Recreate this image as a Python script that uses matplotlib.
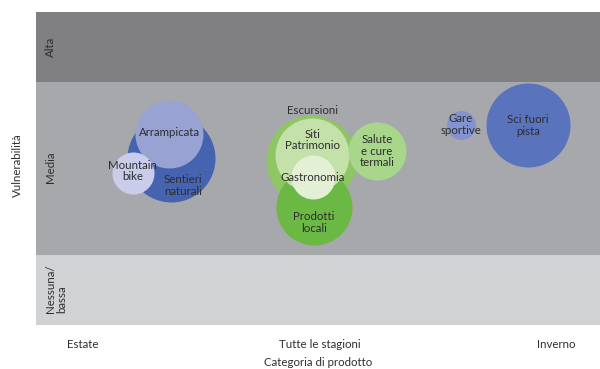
import matplotlib
matplotlib.use("Agg")
import matplotlib.pyplot as plt

plt.rcParams['font.family'] = ['Lato', 'DejaVu Sans']

# x: 0 = Estate, 1 = Tutte le stagioni, 2 = Inverno
# y: 0-1 Nessuna/bassa, 1-3.5 Media, 3.5-4.5 Alta
products = ['Sentieri\nnaturali', 'Arrampicata', 'Mountain\nbike',
            'Escursioni', 'Prodotti\nlocali', 'Siti\nPatrimonio', 'Gastronomia',
            'Salute\ne cure\ntermali', 'Gare\nsportive', 'Sci fuori\npista']
season = [0.372, 0.364, 0.211, 0.964, 0.977, 0.968, 0.973, 1.243, 1.598, 1.882]
vulnerability = [2.40, 2.746, 2.185, 2.372, 1.696, 2.444, 2.128, 2.501, 2.875, 2.875]
radius = [44, 34, 21, 45, 38, 37, 22, 29, 14.5, 42]   # bubble radius, px
colors = ['#4663b0', '#98a2d3', '#c9cde9', '#8dc663', '#6bb844', '#c5e1aa',
          '#e3f0d6', '#a8d68a', '#8393d0', '#5a73bd']
label_shift = [(12, -27), (0, 2), (0, 2), (2, 50), (0, -15), (1, 15),
               (0, 0), (0, 0), (0, 1), (0, 0)]

season_labels = ['Estate', 'Tutte le stagioni', 'Inverno']
band_lo = [0, 1, 3.5]
band_hi = [1, 3.5, 4.5]
band_colors = ['#d1d2d4', '#a7a8ab', '#808083']
band_names = ['Nessuna/\nbassa', 'Media', 'Alta']

txt = '#2e2e2e'
fs = 8.3

fig = plt.figure(figsize=(6, 3.69), dpi=100)
ax = fig.add_axes([0.06, 0.1192, 0.94, 0.8482])
ax.set_xlim(-0.1987, 2.186)
ax.set_ylim(0, 4.5)

for lo, hi, c in zip(band_lo, band_hi, band_colors):
    ax.axhspan(lo, hi, color=c, lw=0, zorder=0)
ax.text(-0.138, 4.0, band_names[2], rotation=90, ha='center', va='center',
        fontsize=fs, color=txt)
ax.text(-0.138, 2.27, band_names[1], rotation=90, ha='center', va='center',
        fontsize=fs, color=txt)
ax.text(-0.115, 0.17, band_names[0], rotation=90, ha='center', va='bottom',
        multialignment='left', fontsize=fs, color=txt, linespacing=1.05)

for i in range(len(products)):
    ax.scatter(season[i], vulnerability[i], s=(2 * radius[i] * 0.72) ** 2,
               color=colors[i], lw=0, zorder=2 + i)
for i in range(len(products)):
    ax.annotate(products[i], (season[i], vulnerability[i]), xytext=label_shift[i],
                textcoords='offset pixels', ha='center', va='center',
                fontsize=fs, color=txt, linespacing=1.1, zorder=20)

ax.set_xticks([0, 1, 2])
ax.set_xticklabels(season_labels, fontsize=fs, color=txt)
ax.tick_params(length=0, pad=10)
ax.set_yticks([])
for s in ax.spines.values():
    s.set_visible(False)
ax.set_xlabel('Categoria di prodotto', fontsize=fs, color=txt, labelpad=5)
fig.text(17 / 600, 1 - 165 / 369, 'Vulnerabilità', rotation=90, ha='center',
         va='center', fontsize=fs, color=txt)

fig.savefig('out.png', dpi=100)
